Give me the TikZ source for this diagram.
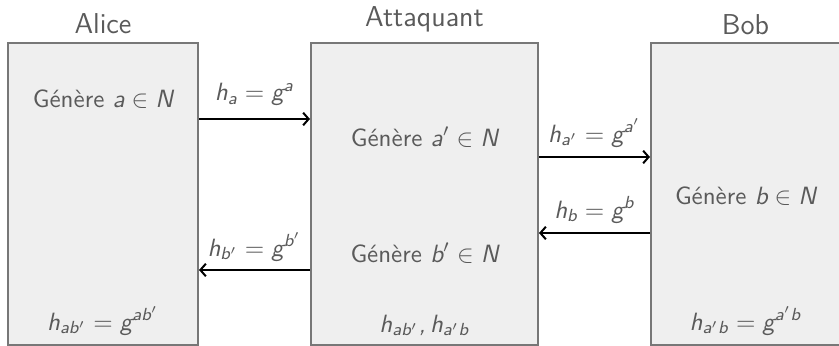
\documentclass[tikz,border=0pt]{standalone}
\renewcommand\familydefault{\sfdefault}
\SetSymbolFont{letters}{normal}{TU}{lmss}{m}{sl}
\mathcode`\,="612C
\usetikzlibrary{arrows.meta}
\definecolor{txtgray}{HTML}{5A5A5A}
\definecolor{boxfill}{HTML}{EFEFEF}
\definecolor{boxdraw}{HTML}{777777}
\tikzset{
  box/.style={draw=boxdraw, fill=boxfill, line width=0.8pt, inner sep=0pt, minimum height=120.8pt},
  txt/.style={text=txtgray, inner sep=0pt, anchor=base, font=\fontsize{10}{12}\selectfont},
  ttl/.style={text=txtgray, inner sep=0pt, anchor=base, font=\fontsize{11.5}{14}\selectfont},
  msg/.style={draw=black, line width=0.8pt, -{Straight Barb[length=2.2pt,width=5pt]}}
}
\begin{document}
\begin{tikzpicture}[x=0.4pt,y=-0.4pt]
\useasboundingbox (0,0) rectangle (839,346);
\clip (0,0) rectangle (839,346);
% boxes
\node[box, minimum width=76pt] (alice) at (103,194) {};
\node[box, minimum width=90.8pt] (att) at (424.5,194) {};
\node[box, minimum width=75.6pt] (bob) at (745.5,194) {};
% titles
\node[ttl] (talice) at (103,34) {Alice};
\node[ttl] (tatt) at (424.5,27) {Attaquant};
\node[ttl] (tbob) at (745.5,35) {Bob};
% box texts
\node[txt] (gena) at (103,108) {Génère $a \in N$};
\node[txt] (genap) at (424.5,146) {Génère $a' \in N$};
\node[txt] (genbp) at (424.5,262) {Génère $b' \in N$};
\node[txt] (genb) at (745.5,204) {Génère $b \in N$};
\node[txt] (kalice) at (103,330) {$h_{ab'} = g^{ab'}$};
\node[txt] (katt) at (424.5,332) {$h_{ab'}, h_{a'b}$};
\node[txt] (kbob) at (745.5,330) {$h_{a'b} = g^{a'b}$};
% message labels
\node[txt] (la) at (254.5,101) {$h_a = g^a$};
\node[txt] (lap) at (594.5,142) {$h_{a'} = g^{a'}$};
\node[txt] (lb) at (594.5,218) {$h_b = g^b$};
\node[txt] (lbp) at (254.5,256) {$h_{b'} = g^{b'}$};
% arrows
\draw[msg] (alice.east |- 0,119) -- (att.west |- 0,119);
\draw[msg] (att.east |- 0,157) -- (bob.west |- 0,157);
\draw[msg] (bob.west |- 0,233) -- (att.east |- 0,233);
\draw[msg] (att.west |- 0,270) -- (alice.east |- 0,270);
\end{tikzpicture}
\end{document}
